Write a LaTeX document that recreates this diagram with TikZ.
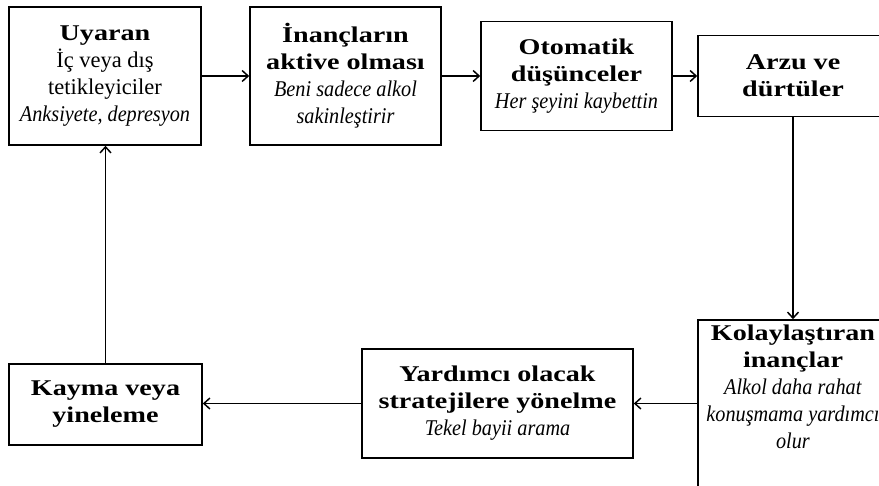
\documentclass[tikz,border=0pt]{standalone}
\usepackage{fontspec}
\setmainfont{Liberation Serif}[UprightFeatures={FakeStretch=1.0},BoldFeatures={FakeStretch=1.25},ItalicFeatures={FakeStretch=0.9}]
\usetikzlibrary{arrows.meta}
\begin{document}
\begin{tikzpicture}[x=1pt,y=-1pt,
  txt/.style={inner sep=0pt,align=center,font=\fontsize{22.5}{27}\selectfont},
  box/.style={txt,draw,line width=1.6pt},
  conn/.style={line width=1.5pt,-{Straight Barb[length=6pt,width=11pt,line width=1.5pt]}}]
\useasboundingbox (0,0) rectangle (879,486);
\clip (0,0) rectangle (879,486);
\node[box,minimum width=192pt,minimum height=138pt] (u) at (105,76)
  {\textbf{Uyaran}\\İç veya dış\\tetikleyiciler\\\textit{Anksiyete, depresyon}};
\node[box,minimum width=191pt,minimum height=138pt] (b) at (345.5,76)
  {\textbf{İnançların}\\\textbf{aktive olması}\\\textit{Beni sadece alkol}\\\textit{sakinleştirir}};
\node[box,minimum width=191pt,minimum height=109pt] (o) at (576.5,76)
  {\textbf{Otomatik}\\\textbf{düşünceler}\\\textit{Her şeyini kaybettin}};
\node[box,minimum width=190pt,minimum height=81pt] (a) at (793,76)
  {\textbf{Arzu ve}\\\textbf{dürtüler}};
\node[box,minimum width=190pt,minimum height=190pt] (k) at (793,415) {};
\node[txt,anchor=north] (kt) at (793,325)
  {\textbf{Kolaylaştıran}\\\textbf{inançlar}\\\textit{Alkol daha rahat}\\\textit{konuşmama yardımcı}\\\textit{olur}};
\node[box,minimum width=271pt,minimum height=109pt] (y) at (497.5,403.5)
  {\textbf{Yardımcı olacak}\\\textbf{stratejilere yönelme}\\\textit{Tekel bayii arama}};
\node[box,minimum width=193pt,minimum height=81pt] (m) at (105.5,404.5)
  {\textbf{Kayma veya}\\\textbf{yineleme}};
\draw[conn] (u.east) -- (b.west);
\draw[conn] (b.east) -- (o.west);
\draw[conn] (o.east) -- (a.west);
\draw[conn] (a.south) -- (k.north);
\draw[conn] (k.west |- y.east) -- (y.east);
\draw[conn] (y.west) -- (y.west -| m.east);
\draw[conn] (m.north) -- (m.north |- u.south);
\end{tikzpicture}
\end{document}
